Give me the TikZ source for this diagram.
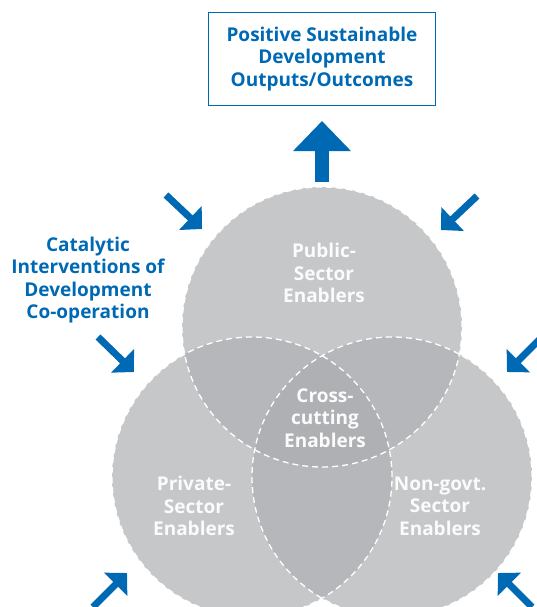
\documentclass[tikz,border=0pt]{standalone}
\usepackage{fontspec}
\setmainfont{Open Sans}
\usetikzlibrary{arrows.meta,positioning}

\definecolor{dcdblue}{RGB}{0,105,180}
\definecolor{vennone}{RGB}{198,199,201}
\definecolor{venntwo}{RGB}{182,183,186}
\definecolor{vennthree}{RGB}{175,176,179}

\begin{document}
\begin{tikzpicture}[
    x=1pt, y=-1pt,
    venndash/.style={draw=white, dash pattern=on 6pt off 4pt, line width=1.3pt},
    enabler/.style={align=center, font=\bfseries\fontsize{19}{22.5}\selectfont, text=white!97!gray},
    bluetext/.style={align=center, font=\bfseries\fontsize{19}{22.5}\selectfont, text=dcdblue},
    pusharrow/.style={draw=dcdblue, line width=7pt, -{Triangle[length=16pt, width=32pt]}},
    bigarrow/.style={draw=dcdblue, line width=14pt, -{Triangle[length=30pt, width=56pt]}}
]
    \useasboundingbox (0,0) rectangle (536,607);

    % centres of the three sectors
    \coordinate (pub) at (322,327);
    \coordinate (priv) at (252,477);
    \coordinate (ngo) at (392,477);

    % venn fills, darker where they overlap
    \fill[vennone] (pub) circle (140pt) (priv) circle (140pt) (ngo) circle (140pt);
    \begin{scope}
        \clip (pub) circle (140pt);
        \fill[venntwo] (priv) circle (140pt) (ngo) circle (140pt);
    \end{scope}
    \begin{scope}
        \clip (priv) circle (140pt);
        \fill[venntwo] (ngo) circle (140pt);
    \end{scope}
    \begin{scope}
        \clip (pub) circle (140pt);
        \clip (priv) circle (140pt);
        \fill[vennthree] (ngo) circle (140pt);
    \end{scope}
    \draw[venndash] (pub) circle (140pt) (priv) circle (140pt) (ngo) circle (140pt);

    % labels inside the circles
    \node[enabler] (pubtext) at (324,273) {Public-\\Sector\\Enablers};
    \node[enabler] (crosstext) at (325,418) {Cross-\\cutting\\Enablers};
    \node[enabler] (privtext) at (194,506) {Private-\\Sector\\Enablers};
    \node[enabler] (ngotext) at (440,506) {Non-govt.\\Sector\\Enablers};

    % outcome box and the arrow into it
    \node[draw=dcdblue, line width=1.6pt, minimum width=227pt, minimum height=93pt, bluetext] (outcome) at (322,59) {Positive Sustainable\\Development\\Outputs/Outcomes};
    \coordinate (upfoot) at (322,182);
    \coordinate (uptip) at (322,121);
    \draw[bigarrow] (upfoot) -- (uptip);

    \node[bluetext] (catalytic) at (88,280) {Catalytic\\Interventions of\\Development\\Co-operation};

    % catalytic pushes from all sides
    \coordinate (tlfoot) at (166,195);  \coordinate (tltip) at (202,229);
    \coordinate (mlfoot) at (98,337);   \coordinate (mltip) at (134,372);
    \coordinate (blfoot) at (93,607);   \coordinate (bltip) at (127,573);
    \coordinate (trfoot) at (477,196);  \coordinate (trtip) at (441,230);
    \coordinate (mrfoot) at (543,336);  \coordinate (mrtip) at (507,372);
    \coordinate (brfoot) at (532,607);  \coordinate (brtip) at (498,573);
    \draw[pusharrow] (tlfoot) -- (tltip);
    \draw[pusharrow] (mlfoot) -- (mltip);
    \draw[pusharrow] (blfoot) -- (bltip);
    \draw[pusharrow] (trfoot) -- (trtip);
    \draw[pusharrow] (mrfoot) -- (mrtip);
    \draw[pusharrow] (brfoot) -- (brtip);
\end{tikzpicture}
\end{document}
